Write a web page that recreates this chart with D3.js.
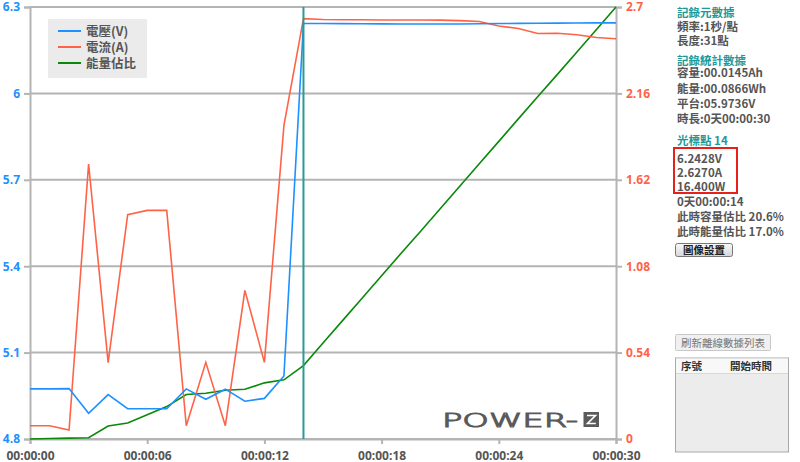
<!DOCTYPE html>
<html><head><meta charset="utf-8">
<script src="https://cdn.jsdelivr.net/npm/d3@7"></script>
<style>
html,body{margin:0;padding:0;background:#fff;}
svg{display:block;font-family:"Noto Sans CJK TC","Noto Sans",sans-serif;}
</style></head>
<body>
<svg id="chart" width="800" height="462"></svg>
<script>
// ---- data ----
const times = d3.range(0, 31); // seconds 0..30
const voltage = [4.974,4.974,4.975,4.889,4.954,4.905,4.905,4.905,4.974,4.938,4.973,4.931,4.941,5.019,
  6.2428,6.2425,6.2422,6.2418,6.2415,6.2412,6.2410,6.2408,6.2412,6.2418,6.2425,6.2430,6.2435,6.2440,6.2445,6.2450,6.2450];
const current = [0.083,0.083,0.056,1.719,0.477,1.402,1.429,1.429,0.083,0.479,0.083,0.929,0.479,1.96,
  2.627,2.622,2.620,2.620,2.619,2.619,2.619,2.618,2.615,2.609,2.581,2.566,2.534,2.536,2.527,2.509,2.502];
const energyPct = [0,0.1,0.2,0.3,3.0,3.7,5.6,7.5,10.3,10.6,11.3,11.5,13.0,13.7,
  17.0,22.2,27.4,32.6,37.8,43.0,48.1,53.3,58.5,63.7,68.9,74.1,79.3,84.4,89.6,94.8,100];
const vTicks = [4.8,5.1,5.4,5.7,6.0,6.3];
const vTickLabels = ["4.8","5.1","5.4","5.7","6","6.3"];
const aTicks = [0,0.54,1.08,1.62,2.16,2.7];
const aTickLabels = ["0","0.54","1.08","1.62","2.16","2.7"];
const xTicks = [0,6,12,18,24,30];
const xTickLabels = ["00:00:00","00:00:06","00:00:12","00:00:18","00:00:24","00:00:30"];
const legendNames = ["電壓(V)","電流(A)","能量佔比"];
const cursorIndex = 14;
const infoMeta = ["記錄元數據","頻率:1秒/點","長度:31點"];
const infoStats = ["記錄統計數據","容量:00.0145Ah","能量:00.0866Wh","平台:05.9736V","時長:0天00:00:30"];
const cursorTitle = "光標點 14";
const cursorVals = ["6.2428V","2.6270A","16.400W"];
const cursorExtra = ["0天00:00:14","此時容量估比 20.6%","此時能量估比 17.0%"];

// ---- layout ----
const svg = d3.select("#chart");
const L = 30, R = 616, T = 7, B = 439;
const cBlue = "#1e90ff", cRed = "#ff6347", cGreen = "#0a880a", cCursor = "#2a9a96";
const x = d3.scaleLinear().domain([0,30]).range([L,R]);
const yV = d3.scaleLinear().domain([4.8,6.3]).range([B,T]);
const yA = d3.scaleLinear().domain([0,2.7]).range([B,T]);
const yE = d3.scaleLinear().domain([0,100]).range([B,T]);

// gridlines
svg.append("g").selectAll("line").data(vTicks).join("line")
  .attr("x1",L).attr("x2",R).attr("y1",d=>yV(d)).attr("y2",d=>yV(d))
  .attr("stroke","#b4b4b4").attr("stroke-width",2);

// axes
const axisColor = "#b4b4b4";
const gL = svg.append("g").attr("transform",`translate(${L},0)`)
  .call(d3.axisLeft(yV).tickValues(vTicks).tickFormat((d,i)=>vTickLabels[i]).tickSize(6).tickPadding(4));
const gR = svg.append("g").attr("transform",`translate(${R},0)`)
  .call(d3.axisRight(yA).tickValues(aTicks).tickFormat((d,i)=>aTickLabels[i]).tickSize(6).tickPadding(4));
const gB = svg.append("g").attr("transform",`translate(0,${B})`)
  .call(d3.axisBottom(x).tickValues(xTicks).tickFormat((d,i)=>xTickLabels[i]).tickSize(5).tickPadding(5));
[gL,gR,gB].forEach(g=>{
  g.select(".domain").attr("stroke",axisColor).attr("stroke-width",2);
  g.selectAll(".tick line").attr("stroke",axisColor).attr("stroke-width",2);
  g.selectAll("text").attr("font-family","'Open Sans','DejaVu Sans',sans-serif").attr("font-weight","bold").attr("font-size",12);
});
gL.selectAll("text").attr("fill",cBlue);
gR.selectAll("text").attr("fill",cRed);
gB.selectAll("text").attr("fill","#555").attr("dy","0.9em");

// logo
const logo = svg.append("g");
logo.append("text").attr("x",442).attr("y",426.5).text("POWER-")
  .attr("font-family","'DejaVu Sans',sans-serif").attr("font-weight",200).attr("font-size",20)
  .attr("textLength",136).attr("lengthAdjust","spacingAndGlyphs")
  .attr("fill","none").attr("stroke","#5a5a5a").attr("stroke-width",1.1);
logo.append("rect").attr("x",583.5).attr("y",412).attr("width",15.5).attr("height",15).attr("fill","#5a5a5a");
logo.append("path").attr("d","M587,415.5 H595.5 L587.5,423.5 H595.8").attr("fill","none").attr("stroke","#fff").attr("stroke-width",1.6);

// lines
const lineV = d3.line().x((d,i)=>x(times[i])).y(d=>yV(d));
const lineA = d3.line().x((d,i)=>x(times[i])).y(d=>yA(d));
const lineE = d3.line().x((d,i)=>x(times[i])).y(d=>yE(d));
svg.append("path").datum(energyPct).attr("d",lineE).attr("fill","none").attr("stroke",cGreen).attr("stroke-width",1.6);
svg.append("path").datum(current).attr("d",lineA).attr("fill","none").attr("stroke",cRed).attr("stroke-width",1.6);
svg.append("path").datum(voltage).attr("d",lineV).attr("fill","none").attr("stroke",cBlue).attr("stroke-width",1.6);

// cursor
svg.append("line").attr("x1",x(times[cursorIndex])).attr("x2",x(times[cursorIndex]))
  .attr("y1",T).attr("y2",B).attr("stroke",cCursor).attr("stroke-width",2);

// legend
const lg = svg.append("g");
lg.append("rect").attr("x",48).attr("y",19).attr("width",99).attr("height",59).attr("fill","#ebebeb");
[cBlue,cRed,cGreen].forEach((c,i)=>{
  const yy = 31 + i*16;
  lg.append("line").attr("x1",58).attr("x2",81).attr("y1",yy).attr("y2",yy).attr("stroke",c).attr("stroke-width",2);
  lg.append("text").attr("x",86).attr("y",yy+4.5).text(legendNames[i])
    .attr("font-size",12.5).attr("font-weight","bold").attr("fill","#555");
});

// right info panel
const panel = svg.append("g").attr("font-size",11.5).attr("font-weight","bold");
const px = 677;
const tealTxt = "#1a9a9a", grayTxt = "#555";
function txt(s, yy, col){ panel.append("text").attr("x",px).attr("y",yy).text(s).attr("fill",col); }
txt(infoMeta[0], 17, tealTxt);
txt(infoMeta[1], 30.5, grayTxt);
txt(infoMeta[2], 44.5, grayTxt);
txt(infoStats[0], 64.5, tealTxt);
[77,92.5,107.5,122.5].forEach((yy,i)=>txt(infoStats[i+1], yy, grayTxt));
txt(cursorTitle, 145, tealTxt);
[162.5,177,191].forEach((yy,i)=>txt(cursorVals[i], yy, grayTxt));
[206,221,236].forEach((yy,i)=>txt(cursorExtra[i], yy, grayTxt));
svg.append("rect").attr("x",674).attr("y",148).attr("width",63).attr("height",45)
  .attr("fill","none").attr("stroke","#e8201a").attr("stroke-width",2);

// button 圖像設置
const grad = svg.append("defs").append("linearGradient").attr("id","btn").attr("x1",0).attr("x2",0).attr("y1",0).attr("y2",1);
grad.append("stop").attr("offset","0%").attr("stop-color","#fafafa");
grad.append("stop").attr("offset","100%").attr("stop-color","#d6d6d6");
svg.append("rect").attr("x",675.5).attr("y",243.5).attr("width",57).attr("height",13).attr("rx",2)
  .attr("fill","url(#btn)").attr("stroke","#777").attr("stroke-width",1);
svg.append("text").attr("x",704).attr("y",254).attr("text-anchor","middle").text("圖像設置")
  .attr("font-size",10.5).attr("font-weight","bold").attr("fill","#222");

// button 刷新離線數據列表
svg.append("rect").attr("x",675.5).attr("y",334.5).attr("width",95).attr("height",16).attr("rx",1)
  .attr("fill","#f0f0f0").attr("stroke","#c8c8c8");
svg.append("text").attr("x",723).attr("y",346.5).attr("text-anchor","middle").text("刷新離線數據列表")
  .attr("font-size",10.5).attr("fill","#777");

// table
svg.append("rect").attr("x",675.5).attr("y",358).attr("width",113).attr("height",94)
  .attr("fill","#ececec").attr("stroke","#a8a8a8");
svg.append("rect").attr("x",676).attr("y",358.5).attr("width",112).attr("height",15).attr("fill","#f8f8f8");
svg.append("line").attr("x1",676).attr("x2",788).attr("y1",373.5).attr("y2",373.5).attr("stroke","#d8d8d8");
svg.append("text").attr("x",681).attr("y",370).text("序號").attr("font-size",10.5).attr("font-weight","bold").attr("fill","#333");
svg.append("text").attr("x",751).attr("y",370).attr("text-anchor","middle").text("開始時間").attr("font-size",10.5).attr("font-weight","bold").attr("fill","#333");
</script>
</body></html>
